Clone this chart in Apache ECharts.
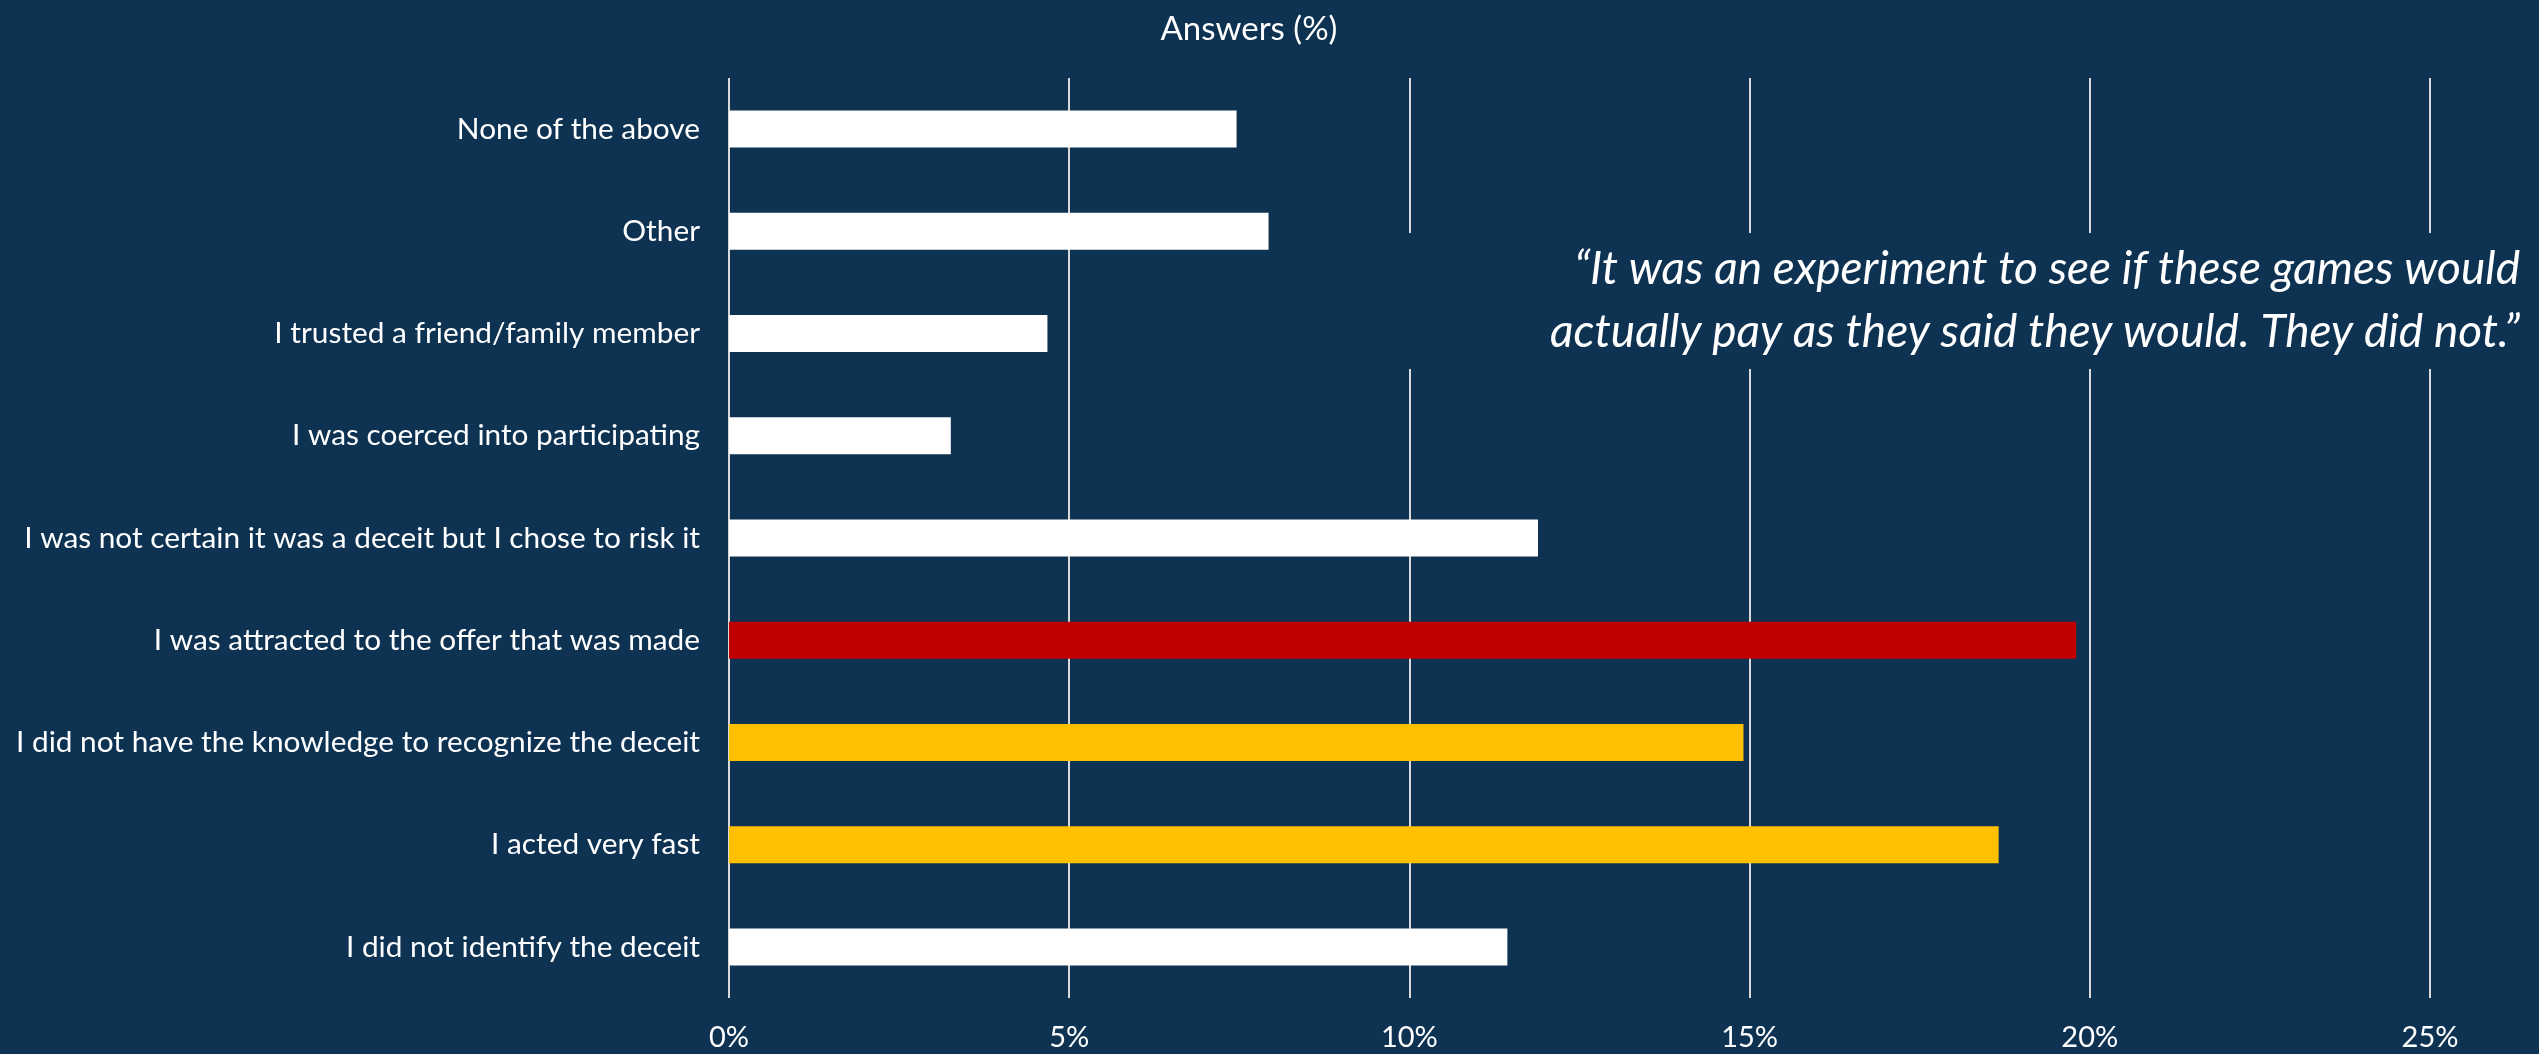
<!DOCTYPE html>
<html>
<head>
<meta charset="utf-8">
<script src="https://cdn.jsdelivr.net/npm/echarts@6/dist/echarts.min.js"></script>
<style>
  html, body { margin: 0; padding: 0; background: #0E3352; }
  #chart { width: 2539px; height: 1054px; }
</style>
</head>
<body>
<div id="chart"></div>
<script>
// Reasons given, listed top to bottom
const categories = [
  'None of the above',
  'Other',
  'I trusted a friend/family member',
  'I was coerced into participating',
  'I was not certain it was a deceit but I chose to risk it',
  'I was attracted to the offer that was made',
  'I did not have the knowledge to recognize the deceit',
  'I acted very fast',
  'I did not identify the deceit'
];
// Share of answers, in percent
const answers = [7.46, 7.93, 4.68, 3.26, 11.89, 19.80, 14.91, 18.66, 11.44];
const xTicks = [0, 5, 10, 15, 20, 25];
const quoteLines = [
  '\u201CIt was an experiment to see if these games would',
  'actually pay as they said they would. They did not.\u201D'
];

const BG = '#0E3352';
const FONT = 'Lato, "Open Sans", sans-serif';
// Highlight colours: top reason in red, the two next in amber
const highlight = {
  'I was attracted to the offer that was made': '#C00000',
  'I did not have the knowledge to recognize the deceit': '#FFC000',
  'I acted very fast': '#FFC000'
};

const chart = echarts.init(document.getElementById('chart'));
chart.setOption({
  backgroundColor: BG,
  animation: false,
  title: {
    text: 'Answers (%)',
    left: 1244,
    top: 8,
    textAlign: 'center',
    textStyle: { color: '#FFFFFF', fontFamily: FONT, fontSize: 33, fontWeight: 'normal' }
  },
  grid: { left: 729, right: 109, top: 78, bottom: 56, containLabel: false },
  xAxis: {
    type: 'value',
    min: xTicks[0],
    max: xTicks[xTicks.length - 1],
    interval: xTicks[1] - xTicks[0],
    axisLine: { show: false },
    axisTick: { show: false },
    splitLine: { show: true, lineStyle: { color: '#D9D9D9', width: 2 } },
    axisLabel: {
      color: '#FFFFFF', fontFamily: FONT, fontSize: 29, margin: 25,
      formatter: '{value}%'
    }
  },
  yAxis: {
    type: 'category',
    data: categories,
    inverse: true,
    axisLine: { show: false },
    axisTick: { show: false },
    splitLine: { show: false },
    axisLabel: { color: '#FFFFFF', fontFamily: FONT, fontSize: 29.8, margin: 29 }
  },
  series: [{
    type: 'bar',
    barWidth: 37,
    data: answers.map((v, i) => ({
      value: v,
      itemStyle: { color: highlight[categories[i]] || '#FFFFFF' }
    }))
  }],
  graphic: [
    {
      type: 'rect',
      z: 100,
      shape: { x: 1385, y: 233, width: 1154, height: 136 },
      style: { fill: BG }
    },
    {
      type: 'text',
      z: 101,
      x: 2520,
      y: 238,
      style: {
        text: quoteLines.join('\n'),
        fill: '#FFFFFF',
        font: 'italic 46px ' + FONT,
        textAlign: 'right',
        textVerticalAlign: 'top',
        lineHeight: 63
      }
    }
  ]
});
</script>
</body>
</html>
